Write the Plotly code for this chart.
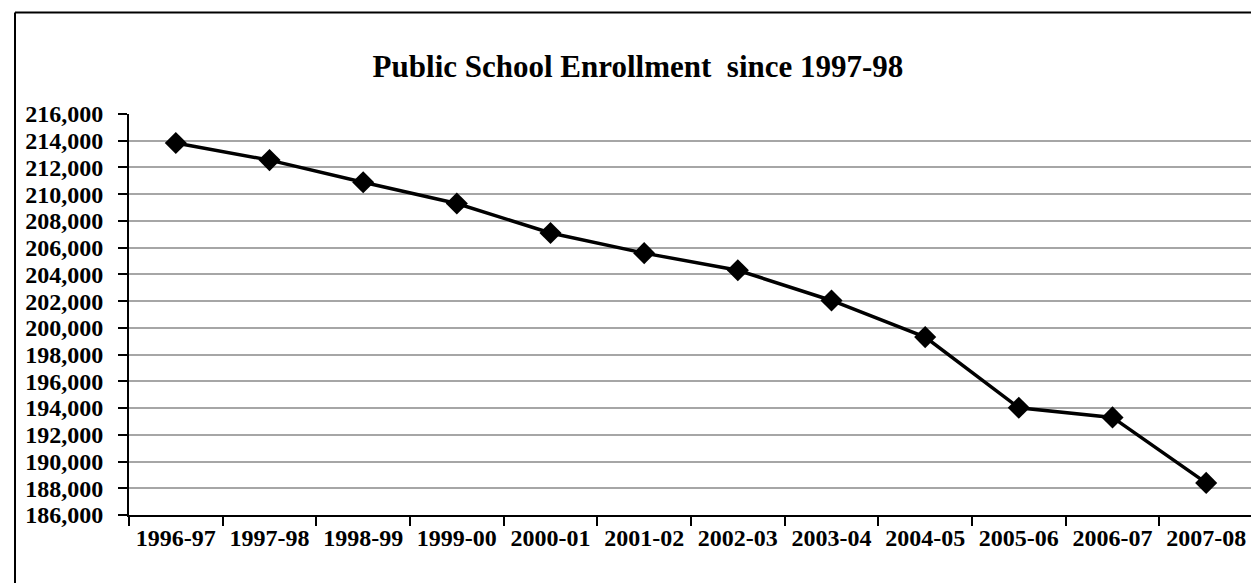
import plotly.graph_objects as go

years = ["1996-97", "1997-98", "1998-99", "1999-00", "2000-01", "2001-02",
         "2002-03", "2003-04", "2004-05", "2005-06", "2006-07", "2007-08"]
enrollment = [213830, 212550, 210890, 209300, 207100, 205590,
              204310, 202050, 199310, 194020, 193300, 188400]
title_text = "Public School Enrollment\u00a0 since 1997-98"

W, H = 1259, 583
L, R, T, B = 121, 14, 106, 76

fig = go.Figure()
fig.add_trace(go.Scatter(
    x=years, y=enrollment, mode="lines+markers",
    line=dict(color="black", width=3.5),
    marker=dict(symbol="diamond", size=17, color="black"),
    showlegend=False,
))

font = dict(family="Liberation Serif", color="black")

pw = W - L - R
ph = H - T - B
def px(x):
    return (x - L) / pw
def py(y):
    return (H - B - y) / ph

fig.update_layout(
    width=W, height=H,
    margin=dict(l=L, r=R, t=T, b=B),
    paper_bgcolor="white", plot_bgcolor="white",
    title=dict(text=title_text, x=630 / W, xref="container", xanchor="center",
               y=1 - 58 / H, yref="container", yanchor="middle",
               font=dict(size=31, weight="bold", **font)),
    xaxis=dict(
        type="category", tickson="boundaries", ticks="outside", ticklen=9,
        tickwidth=1.5, tickcolor="black",
        showline=True, linecolor="black", linewidth=2,
        showgrid=False, tickfont=dict(size=24, weight="bold", **font),
        range=[-0.5, 11.5], fixedrange=True,
    ),
    yaxis=dict(
        range=[186000, 216000], dtick=2000, tick0=186000, tickformat=",",
        ticks="outside", ticklen=9, tickwidth=1.5, tickcolor="black",
        showline=True, linecolor="black", linewidth=2,
        showgrid=True, gridcolor="#A6A6A6", gridwidth=1.5,
        tickfont=dict(size=24, weight="bold", **font), zeroline=False,
        ticklabelstandoff=10,
    ),
    shapes=[
        dict(type="line", xref="paper", yref="paper",
             x0=px(7), x1=px(7), y0=py(4.5), y1=py(600),
             line=dict(color="black", width=2)),
        dict(type="line", xref="paper", yref="paper",
             x0=px(7), x1=px(1258), y0=py(4.5), y1=py(4.5),
             line=dict(color="black", width=2)),
        dict(type="line", xref="paper", yref="paper",
             x0=px(1257.5), x1=px(1257.5), y0=py(4.5), y1=py(600),
             line=dict(color="#A0A0A0", width=1.5)),
    ],
)

fig.write_html("out.html")
